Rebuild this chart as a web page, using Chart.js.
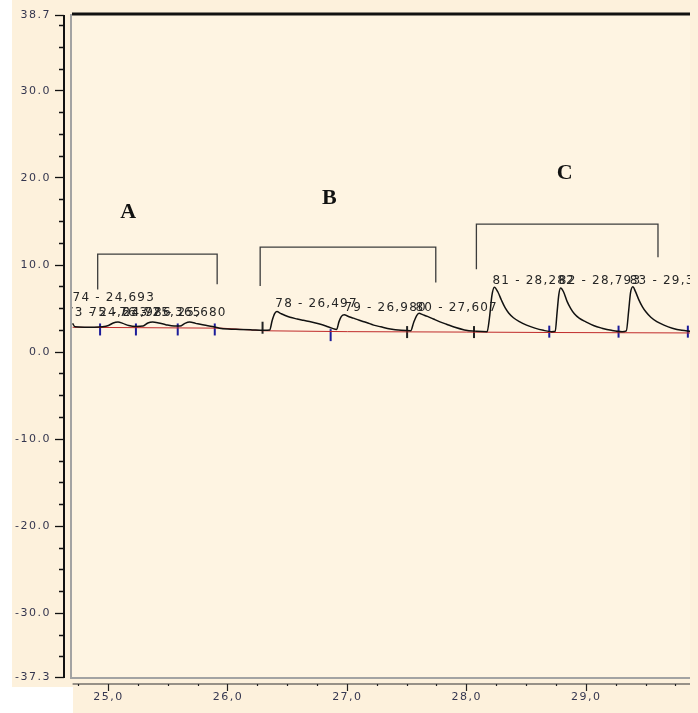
<!DOCTYPE html>
<html>
<head>
<meta charset="utf-8">
<script src="https://cdn.jsdelivr.net/npm/chart.js@4.4.0/dist/chart.umd.min.js"></script>
<style>
  html, body { margin: 0; padding: 0; background: #fff; }
  #wrap { width: 698px; height: 713px; }
</style>
</head>
<body>
<div id="wrap"><canvas id="chart"></canvas></div>
<script>
// chromatogram trace (retention time, signal)
const traceTime = [24.70, 24.72, 24.80, 24.88, 24.95, 25.00, 25.04, 25.08, 25.12, 25.17, 25.23, 25.29, 25.33, 25.37,
    25.42, 25.48, 25.55, 25.60, 25.64, 25.68, 25.73, 25.80, 25.87, 25.93, 26.00, 26.10, 26.20, 26.30, 26.35,
    26.37, 26.39, 26.41, 26.44, 26.48, 26.52, 26.58, 26.63, 26.70, 26.76, 26.82, 26.87, 26.91, 26.93, 26.95,
    26.975, 27.00, 27.05, 27.10, 27.16, 27.22, 27.28, 27.36, 27.45, 27.53, 27.555, 27.58, 27.60, 27.63, 27.67,
    27.72, 27.77, 27.83, 27.90, 27.98, 28.08, 28.17, 28.19, 28.21, 28.23, 28.26, 28.29, 28.32, 28.35, 28.39,
    28.44, 28.50, 28.57, 28.64, 28.71, 28.74, 28.755, 28.77, 28.785, 28.81, 28.84, 28.87, 28.90, 28.94, 29.00,
    29.06, 29.13, 29.21, 29.30, 29.335, 29.355, 29.37, 29.39, 29.41, 29.44, 29.47, 29.50, 29.54, 29.59, 29.65,
    29.72, 29.80, 29.87];
const traceSignal = [3.3, 2.9, 2.85, 2.85, 2.9, 3.05, 3.35, 3.45, 3.3, 3.05, 2.95, 3.0, 3.35, 3.45,
    3.35, 3.15, 3.0, 3.0, 3.3, 3.45, 3.3, 3.1, 2.95, 2.75, 2.65, 2.6, 2.55, 2.5, 2.55,
    3.6, 4.4, 4.65, 4.45, 4.2, 4.0, 3.8, 3.65, 3.45, 3.25, 3.0, 2.75, 2.6, 3.5, 4.1,
    4.3, 4.15, 3.9, 3.65, 3.4, 3.1, 2.9, 2.65, 2.5, 2.45, 3.4, 4.2, 4.45, 4.3, 4.1,
    3.8, 3.5, 3.2, 2.85, 2.55, 2.4, 2.35, 4.0, 6.5, 7.45, 6.9, 5.95, 5.1, 4.5, 3.95,
    3.5, 3.1, 2.75, 2.5, 2.35, 2.4, 4.5, 6.6, 7.35, 6.9, 5.8, 5.0, 4.4, 3.9, 3.45,
    3.05, 2.75, 2.5, 2.35, 2.45, 4.8, 6.8, 7.5, 7.0, 6.0, 5.2, 4.6, 4.0, 3.5, 3.1,
    2.75, 2.5, 2.4];

// integration baseline
const baseTime = [24.70, 25.95, 26.30, 27.00, 28.00, 28.70, 29.87];
const baseSignal = [2.85, 2.75, 2.45, 2.35, 2.3, 2.25, 2.2];

// peak start/end markers
const markTime = [24.93, 25.23, 25.58, 25.89, 26.29, 26.86, 27.50, 28.06, 28.69, 29.27, 29.85];
const markSignal = [2.6, 2.6, 2.6, 2.6, 2.8, 1.95, 2.3, 2.3, 2.35, 2.35, 2.35];
const markColor = ['#1c1c9a', '#1c1c9a', '#1c1c9a', '#1c1c9a', '#222', '#1c1c9a', '#222', '#222', '#1c1c9a', '#1c1c9a', '#1c1c9a'];

// peak labels
const peakText = ['74 - 24,693', '73 - 24,633', '75 - 24,986', '76 - 25,365', '77 - 25,680',
    '78 - 26,497', '79 - 26,980', '80 - 27,607', '81 - 28,282', '82 - 28,793', '83 - 29,393'];
const peakTime = [24.70, 24.645, 24.84, 25.09, 25.30, 26.397, 26.975, 27.57, 28.215, 28.77, 29.364];
const peakSignal = [6.2, 4.5, 4.5, 4.5, 4.5, 5.5, 5.05, 5.05, 8.15, 8.15, 8.15];

// group brackets A, B, C
const groupName = ['A', 'B', 'C'];
const bracketLeft = [24.91, 26.27, 28.08];
const bracketRight = [25.91, 27.74, 29.60];
const bracketTop = [11.25, 12.05, 14.7];
const bracketLeftEnd = [7.2, 7.6, 9.5];
const bracketRightEnd = [7.8, 8.0, 10.9];
const letterTime = [25.165, 26.85, 28.82];
const letterSignal = [16.1, 17.7, 20.5];

// axes
const xTicks = [24.75, 25.0, 25.25, 25.5, 25.75, 26.0, 26.25, 26.5, 26.75, 27.0, 27.25, 27.5, 27.75,
    28.0, 28.25, 28.5, 28.75, 29.0, 29.25, 29.5, 29.75];
const xMajor = [25.0, 26.0, 27.0, 28.0, 29.0];
const yTicks = [-37.3, -35, -32.5, -30, -27.5, -25, -22.5, -20, -17.5, -15, -12.5, -10, -7.5, -5, -2.5, 0,
    2.5, 5, 7.5, 10, 12.5, 15, 17.5, 20, 22.5, 25, 27.5, 30, 32.5, 35, 37.5, 38.7];
const yMajor = [-37.3, -30, -20, -10, 0, 10, 20, 30, 38.7];
const X_MIN = 24.628, X_MAX = 29.868, Y_MIN = -38.1, Y_MAX = 38.7;

const PANEL = '#fdf1dc';
const PLOT = '#fef4e2';
const TICK_TEXT = '#34364f';

const paper = {
    id: 'paper',
    beforeDraw(chart) {
        const { ctx, chartArea: a, scales: { x, y } } = chart;
        const yLow = y.getPixelForValue(-37.3);
        ctx.save();
        ctx.fillStyle = '#ffffff';
        ctx.fillRect(0, 0, chart.width, chart.height);
        ctx.fillStyle = PANEL;
        ctx.fillRect(12, 0, chart.width - 12, yLow + 10);
        ctx.fillRect(a.left + 9, yLow, chart.width, chart.height);
        ctx.fillStyle = PLOT;
        ctx.fillRect(a.left + 8, a.top, a.right - a.left - 8, yLow - a.top);
        // frame
        ctx.strokeStyle = '#a3a3a3';
        ctx.lineWidth = 2;
        ctx.beginPath();
        ctx.moveTo(a.left + 7, a.top - 1);
        ctx.lineTo(a.left + 7, yLow + 1);
        ctx.lineTo(a.right, yLow + 1);
        ctx.stroke();
        ctx.strokeStyle = '#111';
        ctx.lineWidth = 3;
        ctx.beginPath();
        ctx.moveTo(a.left + 8, a.top - 1);
        ctx.lineTo(a.right, a.top - 1);
        ctx.stroke();
        // y axis line
        ctx.lineWidth = 2;
        ctx.beginPath();
        ctx.moveTo(a.left, y.getPixelForValue(38.7));
        ctx.lineTo(a.left, yLow + 1);
        ctx.stroke();
        // x axis line
        ctx.strokeStyle = '#333';
        ctx.lineWidth = 1.2;
        ctx.beginPath();
        ctx.moveTo(x.getPixelForValue(24.70), a.bottom);
        ctx.lineTo(a.right, a.bottom);
        ctx.stroke();
        ctx.restore();
        ctx.letterSpacing = '1.5px';
    },
    afterDatasetsDraw(chart) {
        const { ctx, chartArea: a, scales: { x, y } } = chart;
        ctx.save();
        ctx.beginPath();
        ctx.rect(a.left + 8, a.top, a.right - a.left - 8, a.bottom - a.top);
        ctx.clip();
        ctx.font = '12px "DejaVu Sans"';
        ctx.fillStyle = '#262626';
        ctx.textAlign = 'left';
        ctx.textBaseline = 'middle';
        ctx.letterSpacing = '1.2px';
        peakText.forEach((t, i) => {
            ctx.fillText(t, x.getPixelForValue(peakTime[i]), y.getPixelForValue(peakSignal[i]));
        });
        ctx.letterSpacing = '0px';
        ctx.font = 'bold 22px "Liberation Serif"';
        ctx.fillStyle = '#111';
        ctx.textAlign = 'center';
        groupName.forEach((g, i) => {
            ctx.fillText(g, x.getPixelForValue(letterTime[i]), y.getPixelForValue(letterSignal[i]));
        });
        ctx.restore();
    }
};

const bracketSets = groupName.map((g, i) => ({
    label: 'group ' + g,
    data: [
        { x: bracketLeft[i], y: bracketLeftEnd[i] },
        { x: bracketLeft[i], y: bracketTop[i] },
        { x: bracketRight[i], y: bracketTop[i] },
        { x: bracketRight[i], y: bracketRightEnd[i] }
    ],
    borderColor: '#3c3c3c',
    borderWidth: 1.3,
    pointRadius: 0,
    fill: false
}));

const chartCtx = document.getElementById('chart').getContext('2d');

const chart = new Chart(chartCtx, {
    type: 'line',
    data: {
        datasets: [
            {
                label: 'signal',
                data: traceTime.map((t, i) => ({ x: t, y: traceSignal[i] })),
                borderColor: '#111',
                borderWidth: 1.5,
                pointRadius: 0,
                cubicInterpolationMode: 'monotone',
                fill: false
            },
            {
                label: 'baseline',
                data: baseTime.map((t, i) => ({ x: t, y: baseSignal[i] })),
                borderColor: '#c02a2a',
                borderWidth: 1,
                pointRadius: 0,
                fill: false
            },
            {
                label: 'markers',
                type: 'scatter',
                data: markTime.map((t, i) => ({ x: t, y: markSignal[i] })),
                pointStyle: 'line',
                rotation: 90,
                pointRadius: 6,
                borderColor: markColor,
                backgroundColor: markColor,
                borderWidth: 2
            },
            ...bracketSets
        ]
    },
    options: {
        responsive: true,
        maintainAspectRatio: false,
        animation: false,
        layout: { padding: { top: 15, right: 0, left: 0, bottom: 0 } },
        plugins: {
            legend: { display: false },
            tooltip: { enabled: false }
        },
        scales: {
            x: {
                type: 'linear',
                min: X_MIN,
                max: X_MAX,
                border: { display: false },
                grid: {
                    drawOnChartArea: false,
                    tickLength: 7,
                    tickColor: '#222',
                    tickWidth: 1.2,
                    tickBorderDash: c => xMajor.includes(c.tick.value) ? [] : [2, 20]
                },
                ticks: {
                    autoSkip: false,
                    maxRotation: 0,
                    padding: 0,
                    color: TICK_TEXT,
                    font: { family: 'DejaVu Sans', size: 11 },
                    callback: v => xMajor.includes(v) ? v.toFixed(1).replace('.', ',') : ''
                },
                afterBuildTicks: s => { s.ticks = xTicks.map(v => ({ value: v })); },
                afterFit: s => { s.height = 29; }
            },
            y: {
                type: 'linear',
                min: Y_MIN,
                max: Y_MAX,
                border: { display: false },
                grid: {
                    drawOnChartArea: false,
                    tickLength: 9,
                    tickColor: '#111',
                    tickWidth: 1.3,
                    tickBorderDash: c => yMajor.includes(c.tick.value) ? [] : [0, 4, 5, 10]
                },
                ticks: {
                    autoSkip: false,
                    padding: 4,
                    color: TICK_TEXT,
                    font: { family: 'DejaVu Sans', size: 11 },
                    callback: v => yMajor.includes(v) ? v.toFixed(1) : ''
                },
                afterBuildTicks: s => { s.ticks = yTicks.map(v => ({ value: v })); },
                afterFit: s => { s.width = 64; }
            }
        }
    },
    plugins: [paper]
});
</script>
</body>
</html>
